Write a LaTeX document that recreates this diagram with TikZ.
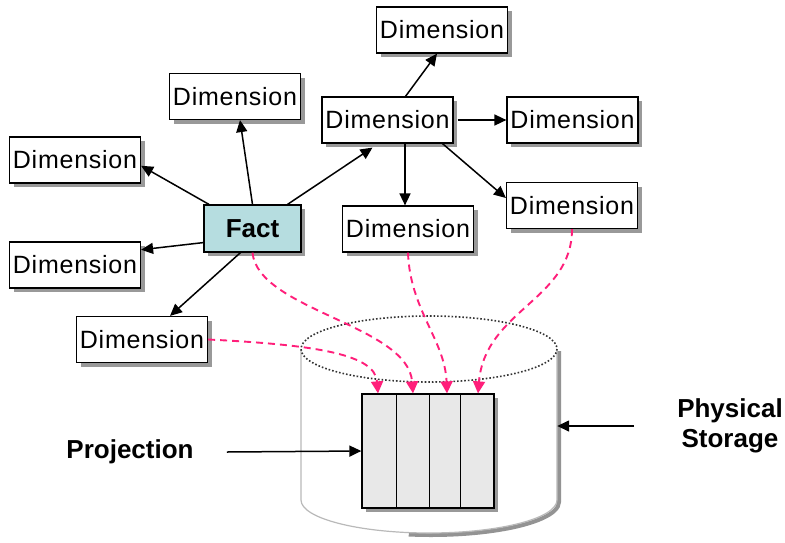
\documentclass[tikz,border=0pt]{standalone}
\usepackage{fontspec}
\setmainfont{Liberation Sans}
\usetikzlibrary{arrows.meta,shadows,calc}

\definecolor{factfill}{HTML}{B6DDE0}
\definecolor{linkpink}{HTML}{FF1F7A}
\definecolor{colfill}{HTML}{E8E8E8}

\tikzset{
  boxshadow/.style={drop shadow={shadow xshift=4pt,shadow yshift=-4pt,fill=gray!80,opacity=1}},
  dimbox/.style={draw=black,line width=1.2pt,fill=white,boxshadow,
    minimum width=131pt,minimum height=46pt,inner sep=0pt,
    font=\fontsize{25}{28}\selectfont\addfontfeature{LetterSpace=3}},
  factbox/.style={dimbox,fill=factfill,minimum width=97pt,minimum height=47pt,
    font=\fontsize{26}{28}\selectfont\bfseries},
  biglabel/.style={font=\fontsize{26}{30}\selectfont\bfseries,align=center,inner sep=0pt},
  arr/.style={line width=1.5pt,-{Triangle[length=12pt,width=11pt]}},
  link/.style={linkpink,line width=1.9pt,dash pattern=on 7pt off 5pt,
    -{Triangle[length=12pt,width=12pt]}},
}

\begin{document}
\begin{tikzpicture}[x=1pt,y=-1pt]
\useasboundingbox (0,0) rectangle (785,542);

% storage cylinder (y axis points down, so angles 0..180 form the lower half)
\node[minimum width=256pt,minimum height=218pt,inner sep=0pt] (store) at (429,424) {};
\draw[gray!85,line width=4pt] (559,351) -- (559,502)
  arc[start angle=0,end angle=100,x radius=128,y radius=33];
\draw[gray!55,line width=1.2pt,fill=white] (301,349) -- (301,500)
  arc[start angle=180,end angle=0,x radius=128,y radius=33] -- (557,349);
\draw[black!80,line width=1.6pt,dotted] (429,349) ellipse[x radius=128,y radius=33];

% projection block with its four columns
\node[draw=black,line width=1.3pt,fill=colfill,boxshadow,minimum width=132pt,
  minimum height=114pt,inner sep=0pt] (proj) at (428,451) {};
\foreach \dx in {35,68,99}
  \draw[line width=1.3pt] ([xshift=\dx pt]proj.north west) -- ([xshift=\dx pt]proj.south west);

% fact and dimension tables
\node[factbox] (fact) at (252.5,228.5) {Fact};
\node[dimbox] (d1) at (442,30) {Dimension};
\node[dimbox] (d2) at (387.5,120) {Dimension};
\node[dimbox] (d3) at (572.5,120) {Dimension};
\node[dimbox] (d4) at (572,205.5) {Dimension};
\node[dimbox] (d5) at (408,229) {Dimension};
\node[dimbox] (d6) at (235,96.5) {Dimension};
\node[dimbox] (d7) at (75,160) {Dimension};
\node[dimbox] (d8) at (75,265) {Dimension};
\node[dimbox] (d9) at (142,339.5) {Dimension};

% labels
\node[biglabel] (plab) at (130,452) {Projection};
\node[biglabel] (phys) at (730,426) {Physical\\Storage};

% schema links
\draw[arr] (fact.151) -- (d7.-5);
\draw[arr] (fact.196) -- (d8.13);
\draw[arr] (fact.north) -- ([xshift=5pt]d6.south);
\draw[arr] ([xshift=35pt]fact.north) -- ([xshift=-15pt,yshift=-4pt]d2.south);
\draw[arr] ([xshift=-12pt]fact.south) -- ([xshift=28pt]d9.north);
\draw[arr] ([xshift=18pt]d2.north) -- ([xshift=-5pt]d1.south);
\draw[arr] ([xshift=4pt]d2.east) -- (d3.west);
\draw[arr] ([xshift=17.5pt]d2.south) -- ([xshift=-3pt]d5.north);
\draw[arr] ([xshift=55pt]d2.south) -- ([yshift=7.5pt]d4.west);

% projection and storage pointers
\draw[arr] ([xshift=33pt]plab.east) -- (proj.west);
\draw[arr] ([xshift=-43pt]phys.west) -- ([yshift=-2pt]store.east);

% columns projected into storage
\draw[link] (d9.east) .. controls (320,345) and (375,355) .. ([xshift=-50pt]proj.north);
\draw[link] (fact.south) .. controls (258,310) and (408,325) .. ([xshift=-15pt]proj.north);
\draw[link] (d5.south) .. controls (410,310) and (445,340) .. ([xshift=19pt]proj.north);
\draw[link] (d4.south) .. controls (572,300) and (485,310) .. ([xshift=50pt]proj.north);
\end{tikzpicture}
\end{document}
